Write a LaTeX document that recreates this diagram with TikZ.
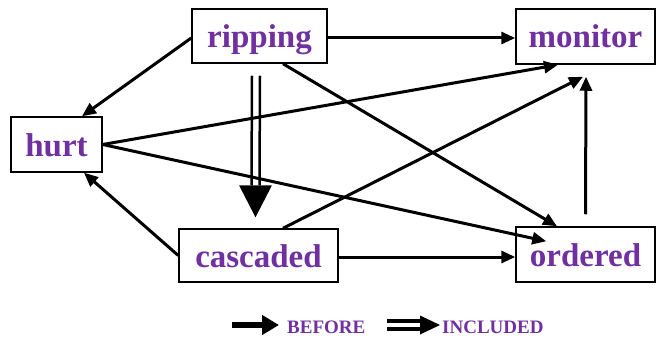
\documentclass[tikz,border=0pt]{standalone}
\usepackage{fontspec}
\setmainfont{Liberation Serif}
\usetikzlibrary{arrows.meta,calc}
\definecolor{lbl}{HTML}{7030A0}
\begin{document}
\begin{tikzpicture}[x=1pt,y=-1pt,
  box/.style={draw, line width=1.5pt, minimum width=#1, minimum height=54pt, inner sep=0pt,
    text height=30pt, text depth=7pt,
    font=\fontsize{33}{37}\selectfont\bfseries, text=lbl, fill=white},
  edge/.style={line width=3pt, -{Triangle[length=14pt,width=12pt]}},
  legtext/.style={anchor=base west, inner sep=0pt, font=\fontsize{19}{22}\selectfont\bfseries, text=lbl},
]
\useasboundingbox (0,0) rectangle (656,337);

\node[box=135pt] (ripping) at (259.5,36) {ripping};
\node[box=139pt, minimum height=55pt] (monitor) at (585.5,36.5) {monitor};
\node[box=91pt, minimum height=55pt] (hurt) at (56.5,144.5) {hurt};
\node[box=159pt, minimum height=53pt] (cascaded) at (258.5,255.5) {cascaded};
\node[box=139pt, minimum height=55pt] (ordered) at (585.5,254.5) {ordered};

% BEFORE connectors
\draw[edge] ($(ripping.east)+(0,2)$) -- ($(monitor.west)+(0,1.5)$);
\draw[edge] ($(ripping.west)+(0,2)$) -- ($(hurt.north)+(25.5,0)$);
\draw[edge] ($(ripping.south)+(23.5,0)$) -- ($(ordered.north)+(-28.5,0)$);
\draw[edge] (hurt.east) -- ($(monitor.south)+(-27.5,0)$);
\draw[edge] (hurt.east) -- ($(ordered.north west)+(31,15)$);
\draw[edge] (cascaded.west) -- ($(hurt.south)+(27.5,0)$);
\draw[edge] ($(cascaded.north)+(24.5,0)$) -- ($(monitor.south)+(-2.5,12)$);
\draw[edge] ($(cascaded.east)+(0,1.5)$) -- ($(ordered.west)+(0,2.5)$);
\draw[edge] ($(ordered.north)+(0,-12)$) -- ($(monitor.south)+(0.5,12)$);

% INCLUDED connector (double arrow)
\coordinate (dA) at ($(ripping.south)+(-3.5,12)$);
\coordinate (dB) at ($(cascaded.north)+(-3,-11)$);
\draw[line width=2.5pt] ($(dA)+(-4,0)$) -- ($(dB)+(-4,-32)$);
\draw[line width=2.5pt] ($(dA)+(4,0)$) -- ($(dB)+(4,-32)$);
\fill ($(dB)+(-16.5,-32)$) -- ($(dB)+(16.5,-32)$) -- (dB) -- cycle;

% legend
\draw[line width=6pt, -{Triangle[length=17pt,width=19pt]}] (232,325) -- (279,325);
\node[legtext] (before) at (287,333) {BEFORE};
\draw[line width=3.5pt] (387,321) -- (424,321);
\draw[line width=3.5pt] (387,329) -- (424,329);
\fill (420,315.5) -- (440,325) -- (420,334.5) -- cycle;
\node[legtext] (included) at (442,333) {INCLUDED};
\end{tikzpicture}
\end{document}
